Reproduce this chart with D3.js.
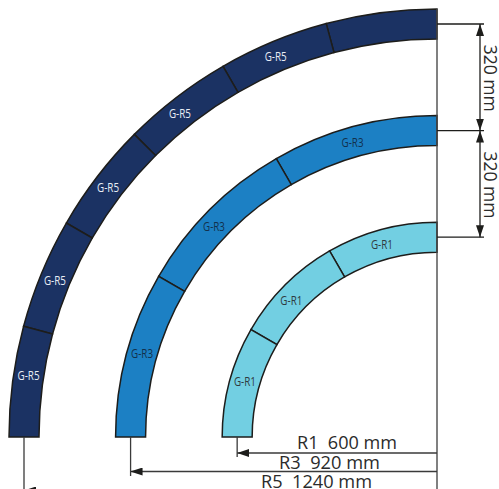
<!DOCTYPE html>
<html>
<head>
<meta charset="utf-8">
<script src="https://cdn.jsdelivr.net/npm/d3@7"></script>
<style>
    html, body { margin: 0; padding: 0; background: #fff; }
    svg { display: block; }
    text { font-family: "Open Sans", sans-serif; }
</style>
</head>
<body>
<div id="chart"></div>
<script>
// centre line radius of each curve, mm
const radii = [600, 920, 1240];
const radiusNames = ["R1", "R3", "R5"];
const segmentAngles = [30, 30, 15];
const curveColors = ["#72cfe2", "#1c80c4", "#1b3263"];
const labelColors = ["#2f3a40", "#12304d", "#e8edf5"];
const segmentLabels = ["G-R1", "G-R3", "G-R5"];
// where the labels sit along each curve, degrees from the top
const labelAngles = [
    [16, 46.8, 74],
    [16, 46.7, 74.3],
    [23, 38.5, 52.8, 67.7, 81.5]
];
const stepLabel = "320 mm";
const trackWidth = 90;

let width = 499, height = 489;
let cx = 437, cy = 437;
let ink = "#1d1d1b";

let scale = d3.scaleLinear().domain([0, 1240]).range([0, 413]);

let svg = d3.select("#chart").append("svg")
    .attr("width", width)
    .attr("height", height);

svg.append("defs").append("marker")
    .attr("id", "arrow")
    .attr("viewBox", "0 0 12 8")
    .attr("refX", 12)
    .attr("refY", 4)
    .attr("markerWidth", 12)
    .attr("markerHeight", 8)
    .attr("markerUnits", "userSpaceOnUse")
    .attr("orient", "auto-start-reverse")
    .append("path")
    .attr("d", "M12,4L0,0L0,8Z")
    .attr("fill", ink);

let plot = svg.append("g").attr("transform", `translate(${cx},${cy})`);
let arc = d3.arc();
let rad = d => d * Math.PI / 180;

// dimension lines go under the curves
let dims = svg.append("g").attr("stroke", ink).attr("fill", "none");

dims.append("line")
    .attr("x1", cx).attr("x2", cx)
    .attr("y1", 9).attr("y2", height)
    .attr("stroke", "#4a4a4a")
    .attr("stroke-width", 1.4);

// radius dimensions
let rowY = [453, 471.5, 490.5];
let rowEnd = [457, 476, 489];
let textEnd = [397, 380, 372];
let textBase = [449, 469, 488];
let textWidth = [100, 101, 111];
radii.forEach((r, i) => {
    let x = cx - scale(r);
    dims.append("line")
        .attr("x1", x).attr("x2", x)
        .attr("y1", cy).attr("y2", rowEnd[i])
        .attr("stroke", "#3a3a3a")
        .attr("stroke-width", 1.3);
    dims.append("line")
        .attr("x1", cx).attr("x2", x)
        .attr("y1", rowY[i]).attr("y2", rowY[i])
        .attr("stroke", "#3a3a3a")
        .attr("stroke-width", 1.4)
        .attr("marker-end", "url(#arrow)");
    svg.append("text")
        .attr("x", textEnd[i])
        .attr("y", textBase[i])
        .attr("text-anchor", "end")
        .attr("xml:space", "preserve")
        .attr("font-size", 17.5)
        .attr("textLength", textWidth[i])
        .attr("lengthAdjust", "spacingAndGlyphs")
        .attr("fill", "#2b2b2b")
        .text(`${radiusNames[i]}  ${r} mm`);
});

// spacing between the curves, measured on centre lines
let sorted = radii.slice().reverse();
sorted.forEach(r => {
    let y = cy - scale(r);
    dims.append("line")
        .attr("x1", cx).attr("x2", 484)
        .attr("y1", y).attr("y2", y)
        .attr("stroke-width", 1.3);
});
d3.pairs(sorted).forEach(([a, b]) => {
    let y1 = cy - scale(a), y2 = cy - scale(b);
    dims.append("line")
        .attr("x1", 480).attr("x2", 480)
        .attr("y1", y1).attr("y2", y2)
        .attr("stroke-width", 1.3)
        .attr("marker-start", "url(#arrow)")
        .attr("marker-end", "url(#arrow)");
    svg.append("text")
        .attr("transform", `translate(484,${(y1 + y2) / 2 + 1}) rotate(90)`)
        .attr("text-anchor", "middle")
        .attr("font-size", 17.5)
        .attr("fill", "#2b2b2b")
        .text(stepLabel);
});

// curves
radii.forEach((r, i) => {
    let inner = scale(r - trackWidth / 2), outer = scale(r + trackWidth / 2);
    let starts = d3.range(0, 90, segmentAngles[i]);

    plot.selectAll(null)
        .data(starts)
        .join("path")
        .attr("d", a => arc({
            innerRadius: inner,
            outerRadius: outer,
            startAngle: rad(-a),
            endAngle: rad(-a - segmentAngles[i])
        }))
        .attr("fill", curveColors[i])
        .attr("stroke", ink)
        .attr("stroke-width", 1.5);

    plot.selectAll(null)
        .data(labelAngles[i])
        .join("text")
        .attr("x", a => -scale(r) * Math.sin(rad(a)))
        .attr("y", a => -scale(r) * Math.cos(rad(a)))
        .attr("dy", "0.36em")
        .attr("text-anchor", "middle")
        .attr("font-size", 12)
        .attr("textLength", 22)
        .attr("lengthAdjust", "spacingAndGlyphs")
        .attr("fill", labelColors[i])
        .text(segmentLabels[i]);
});
</script>
</body>
</html>
